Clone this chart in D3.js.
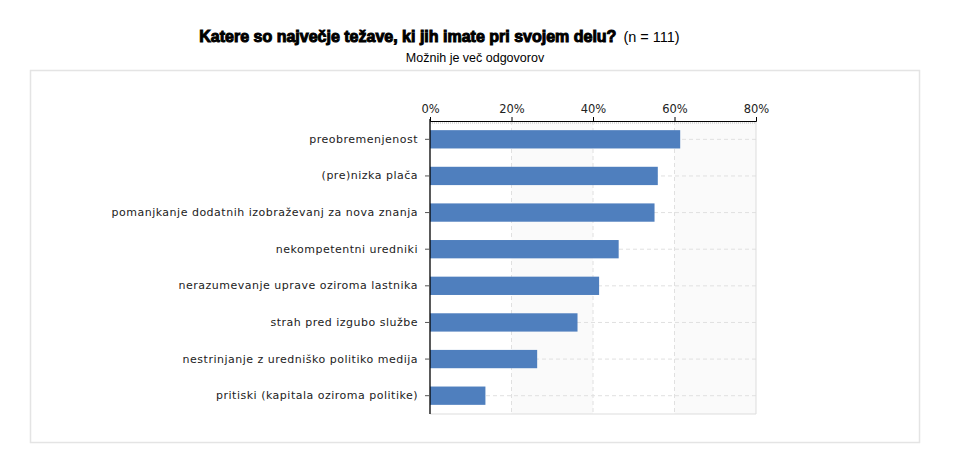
<!DOCTYPE html>
<html><head><meta charset="utf-8">
<script src="https://cdn.jsdelivr.net/npm/d3@7"></script>
<style>body{margin:0;background:#fff}</style>
</head><body>
<svg id="c" width="957" height="472"></svg>
<script>
const categories = [
  "preobremenjenost",
  "(pre)nizka plača",
  "pomanjkanje dodatnih izobraževanj za nova znanja",
  "nekompetentni uredniki",
  "nerazumevanje uprave oziroma lastnika",
  "strah pred izgubo službe",
  "nestrinjanje z uredniško politiko medija",
  "pritiski (kapitala oziroma politike)"
];
const values = [61.4, 55.9, 55.1, 46.3, 41.5, 36.2, 26.3, 13.6];
const tickValues = [0, 20, 40, 60, 80];
const titleMain = "Katere so največje težave, ki jih imate pri svojem delu?";
const titleN = "(n = 111)";
const subtitle = "Možnih je več odgovorov";

(function(){
const svg = d3.select("#c");
// outer frame
svg.append("rect").attr("x",30.5).attr("y",70.5).attr("width",889).attr("height",372)
  .attr("fill","#fff").attr("stroke","#e4e4e4").attr("stroke-width",1.5);

// title
const t = svg.append("text").attr("y",42).attr("font-family","Liberation Sans, Arial, sans-serif");
t.append("tspan").attr("font-size",16).attr("font-weight","bold")
  .attr("stroke","#000").attr("stroke-width",1).text(titleMain);
t.append("tspan").attr("font-size",14.5).attr("dx",7).text(titleN);
const tw = t.node().getComputedTextLength();
t.attr("x", 436 - tw/2);
svg.append("text").attr("x",475).attr("y",62).attr("text-anchor","middle")
  .attr("font-family","Liberation Sans, Arial, sans-serif").attr("font-size",12.5).text(subtitle);

const pL = 430, pR = 756, pT = 121, pB = 414;
const x = d3.scaleLinear().domain([0,80]).range([pL,pR]);
const y = d3.scaleBand().domain(categories).range([pT,pB]).paddingInner(0.5).paddingOuter(0.25);

const g = svg.append("g");
// alternating bands
for (let i=0;i<tickValues.length-1;i++){
  if (i%2===1) g.append("rect").attr("x",x(tickValues[i])).attr("y",pT)
    .attr("width",x(tickValues[i+1])-x(tickValues[i])).attr("height",pB-pT).attr("fill","#fafafa");
}
// vertical gridlines
g.selectAll(".vg").data(tickValues.slice(1,-1)).join("line")
  .attr("x1",d=>x(d)).attr("x2",d=>x(d)).attr("y1",pT).attr("y2",pB)
  .attr("stroke","#e0e0e0").attr("stroke-dasharray","4,3");
// horizontal gridlines
g.selectAll(".hg").data(categories).join("line")
  .attr("x1",pL).attr("x2",pR).attr("y1",d=>y(d)+y.bandwidth()/2).attr("y2",d=>y(d)+y.bandwidth()/2)
  .attr("stroke","#e0e0e0").attr("stroke-dasharray","4,3");
// plot border right/bottom
g.append("path").attr("d",`M${pR},${pT}V${pB}H${pL}`).attr("fill","none").attr("stroke","#dddddd");

// bars
g.selectAll(".bar").data(values).join("rect")
  .attr("x",x(0)).attr("y",(d,i)=>y(categories[i]))
  .attr("width",d=>x(d)-x(0)).attr("height",y.bandwidth())
  .attr("fill","#4f7fbe");

// top axis
const xa = svg.append("g").attr("transform",`translate(0,${pT})`)
  .call(d3.axisTop(x).tickValues(tickValues).tickFormat(d=>d+"%").tickSize(4).tickPadding(4));
xa.select(".domain").attr("stroke","#000");
xa.selectAll(".tick line").attr("stroke","#000");
xa.selectAll("text").attr("font-family","DejaVu Sans, Verdana, sans-serif").attr("font-size",11.5).attr("fill","#222");
svg.append("line").attr("x1",pL).attr("x2",pR).attr("y1",pT+2).attr("y2",pT+2)
  .attr("stroke","#bbb").attr("stroke-dasharray","1,1");

// left axis
const ya = svg.append("g").attr("transform",`translate(${pL},0)`)
  .call(d3.axisLeft(y).tickSize(5).tickPadding(7));
ya.select(".domain").attr("d",`M0,${pT-2}V${pB}`).attr("stroke","#000").attr("stroke-width",1.3);
ya.selectAll(".tick line").attr("stroke","#555");
ya.selectAll("text").attr("font-family","DejaVu Sans, Verdana, sans-serif").attr("font-size",11)
  .attr("letter-spacing","0.5px").attr("fill","#222");
})();
</script>
</body></html>
